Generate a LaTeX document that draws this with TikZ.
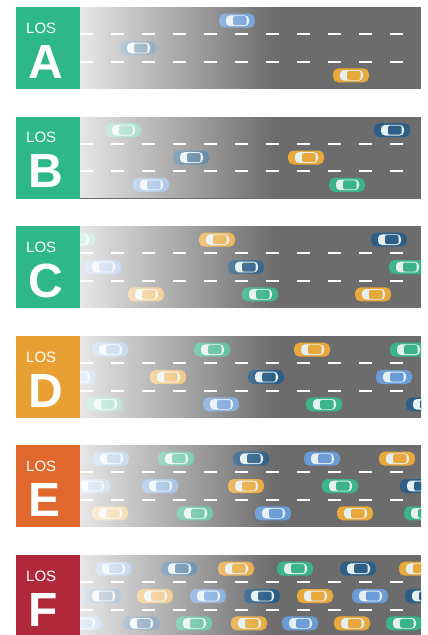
\documentclass[tikz,border=0pt]{standalone}
\usepackage{fontspec}
\setmainfont{Liberation Sans}
\usetikzlibrary{fadings}

\definecolor{roadgray}{RGB}{108,108,108}
\definecolor{losgreen}{RGB}{46,184,138}
\definecolor{losorange}{RGB}{232,160,50}
\definecolor{losred}{RGB}{224,104,44}
\definecolor{loscrimson}{RGB}{176,40,58}
\definecolor{lblue}{RGB}{108,156,216}
\definecolor{dblue}{RGB}{44,94,134}
\definecolor{cgreen}{RGB}{60,180,138}
\definecolor{corange}{RGB}{233,168,60}
\definecolor{cabin}{RGB}{228,240,240}

% white wash over the near end of each road
\tikzfading[name=washout, left color=transparent!16, right color=transparent!100]

\tikzset{
  lanemark/.style={white, line width=1.8pt, dash pattern=on 13pt off 18pt},
  lostext/.style={anchor=base west, inner sep=0pt, text=white, font=\fontsize{15}{15}\selectfont},
  lvltext/.style={anchor=base west, inner sep=0pt, text=white, font=\fontsize{48}{48}\selectfont\bfseries},
  pics/car/.style={code={
    \fill[#1, rounded corners=5.5pt] (-18,-7) rectangle (18,7);
    \fill[cabin, rounded corners=4pt] (-11,-5.3) rectangle (12,5.3);
    \fill[#1, rounded corners=1.5pt] (-4,-4.5) rectangle (9.5,4.5);
  }}
}

% road surface with its two dashed lane lines
\newcommand{\roadbed}{%
  \fill[roadgray] (80,0) rectangle (421,82);
  \draw[lanemark] (80,27.3) -- (404,27.3);
  \draw[lanemark] (80,54.7) -- (404,54.7);
}
\newcommand{\washfront}{%
  \fill[white, path fading=washout] (80,0) rectangle (275,82);
}

\begin{document}
\begin{tikzpicture}[x=1pt, y=-1pt]
\useasboundingbox (0,0) rectangle (428,635);
\clip (0,0) rectangle (428,635);

% ---------------- LOS A ----------------
\begin{scope}[yshift=-7pt]
  \begin{scope}
    \clip (80,0) rectangle (421,82);
    \roadbed
    \pic at (237,13.7) {car=lblue};
    \pic at (138,41) {car=dblue};
    \pic at (351,68.3) {car=corange};
    \washfront
  \end{scope}
  \fill[losgreen] (16,0) rectangle (80,82);
  \node[lostext] (losA) at (26,26) {LOS};
  \node[lvltext] (lvlA) at (28,71) {A};
\end{scope}

% ---------------- LOS B ----------------
\begin{scope}[yshift=-116.5pt]
  \begin{scope}
    \clip (80,0) rectangle (421,82);
    \roadbed
    \pic at (123,13.7) {car=cgreen};
    \pic at (392,13.7) {car=dblue};
    \pic at (191,41) {car=dblue};
    \pic at (306,41) {car=corange};
    \pic at (151,68.3) {car=lblue};
    \pic at (347,68.3) {car=cgreen};
    \washfront
  \end{scope}
  \fill[losgreen] (16,0) rectangle (80,82);
  \node[lostext] (losB) at (26,26) {LOS};
  \node[lvltext] (lvlB) at (28,71) {B};
\end{scope}

% ---------------- LOS C ----------------
\begin{scope}[yshift=-226pt]
  \begin{scope}
    \clip (80,0) rectangle (421,82);
    \roadbed
    \pic at (77,13.7) {car=cgreen};
    \pic at (217,13.7) {car=corange};
    \pic at (389,13.7) {car=dblue};
    \pic at (103,41) {car=lblue};
    \pic at (246,41) {car=dblue};
    \pic at (407,41) {car=cgreen};
    \pic at (146,68.3) {car=corange};
    \pic at (260,68.3) {car=cgreen};
    \pic at (373,68.3) {car=corange};
    \washfront
  \end{scope}
  \fill[losgreen] (16,0) rectangle (80,82);
  \node[lostext] (losC) at (26,26) {LOS};
  \node[lvltext] (lvlC) at (28,71) {C};
\end{scope}

% ---------------- LOS D ----------------
\begin{scope}[yshift=-336pt]
  \begin{scope}
    \clip (80,0) rectangle (421,82);
    \roadbed
    \pic at (110,13.7) {car=lblue};
    \pic at (212,13.7) {car=cgreen};
    \pic at (312,13.7) {car=corange};
    \pic at (408,13.7) {car=cgreen};
    \pic at (78,41) {car=lblue};
    \pic at (168,41) {car=corange};
    \pic at (266,41) {car=dblue};
    \pic at (394,41) {car=lblue};
    \pic at (105,68.3) {car=cgreen};
    \pic at (221,68.3) {car=lblue};
    \pic at (324,68.3) {car=cgreen};
    \pic at (424,68.3) {car=dblue};
    \washfront
  \end{scope}
  \fill[losorange] (16,0) rectangle (80,82);
  \node[lostext] (losD) at (26,26) {LOS};
  \node[lvltext] (lvlD) at (28,71) {D};
\end{scope}

% ---------------- LOS E ----------------
\begin{scope}[yshift=-445pt]
  \begin{scope}
    \clip (80,0) rectangle (421,82);
    \roadbed
    \pic at (111,13.7) {car=lblue};
    \pic at (176,13.7) {car=cgreen};
    \pic at (251,13.7) {car=dblue};
    \pic at (322,13.7) {car=lblue};
    \pic at (397,13.7) {car=corange};
    \pic at (92,41) {car=lblue};
    \pic at (160,41) {car=lblue};
    \pic at (246,41) {car=corange};
    \pic at (340,41) {car=cgreen};
    \pic at (418,41) {car=dblue};
    \pic at (110,68.3) {car=corange};
    \pic at (195,68.3) {car=cgreen};
    \pic at (273,68.3) {car=lblue};
    \pic at (355,68.3) {car=corange};
    \pic at (422,68.3) {car=cgreen};
    \washfront
  \end{scope}
  \fill[losred] (16,0) rectangle (80,82);
  \node[lostext] (losE) at (26,26) {LOS};
  \node[lvltext] (lvlE) at (28,71) {E};
\end{scope}

% ---------------- LOS F ----------------
\begin{scope}[yshift=-555pt]
  \begin{scope}
    \clip (80,0) rectangle (421,82);
    \roadbed
    \pic at (113,13.7) {car=lblue};
    \pic at (179,13.7) {car=dblue};
    \pic at (236,13.7) {car=corange};
    \pic at (295,13.7) {car=cgreen};
    \pic at (358,13.7) {car=dblue};
    \pic at (417,13.7) {car=corange};
    \pic at (103,41) {car=dblue};
    \pic at (155,41) {car=corange};
    \pic at (208,41) {car=lblue};
    \pic at (262,41) {car=dblue};
    \pic at (315,41) {car=corange};
    \pic at (370,41) {car=lblue};
    \pic at (423,41) {car=dblue};
    \pic at (83,68.3) {car=lblue};
    \pic at (141,68.3) {car=dblue};
    \pic at (194,68.3) {car=cgreen};
    \pic at (249,68.3) {car=corange};
    \pic at (300,68.3) {car=lblue};
    \pic at (352,68.3) {car=corange};
    \pic at (404,68.3) {car=cgreen};
    \washfront
  \end{scope}
  \fill[loscrimson] (16,0) rectangle (80,82);
  \node[lostext] (losF) at (26,26) {LOS};
  \node[lvltext] (lvlF) at (28,71) {F};
\end{scope}

\end{tikzpicture}
\end{document}
